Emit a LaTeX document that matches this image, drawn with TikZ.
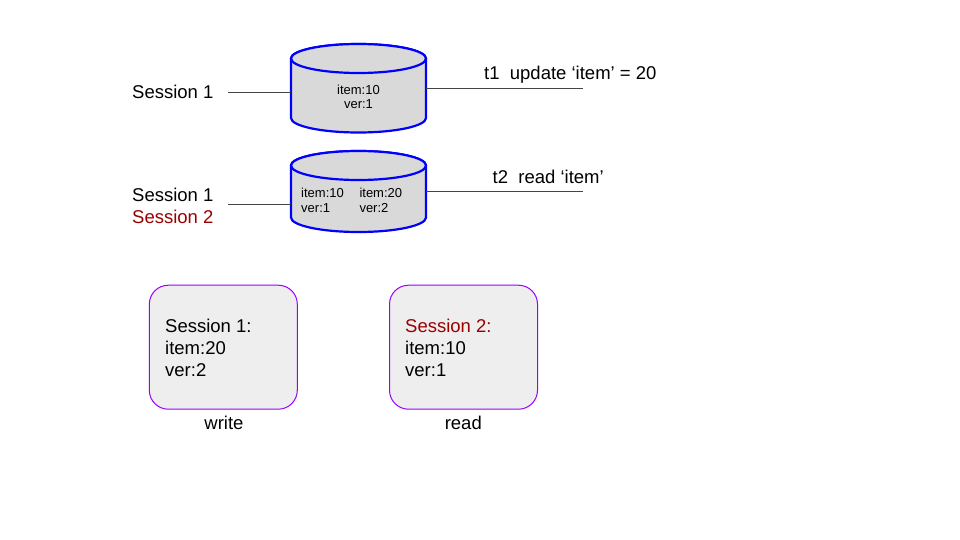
\documentclass[tikz,border=0pt]{standalone}
\usepackage{fontspec}
\setmainfont{Liberation Sans}
\definecolor{cylfill}{HTML}{D9D9D9}
\definecolor{cylline}{HTML}{0000FF}
\definecolor{boxfill}{HTML}{EEEEEE}
\definecolor{boxline}{HTML}{9900FF}
\definecolor{darkred}{HTML}{990000}
\definecolor{conncol}{HTML}{444444}
\tikzset{
  big/.style={inner sep=0pt, font=\fontsize{18.5}{21.8}\selectfont},
  small/.style={inner sep=0pt, font=\fontsize{13}{15}\selectfont},
  cylsty/.style={draw=cylline, fill=cylfill, line width=2.2pt},
  conn/.style={draw=conncol, line width=0.9pt},
  sessbox/.style={draw=boxline, fill=boxfill, line width=1pt, rounded corners=19pt, inner sep=0pt},
}
\begin{document}
\begin{tikzpicture}[x=1pt,y=-1pt]
\useasboundingbox (0,0) rectangle (960,540);
% cylinder 1
\filldraw[cylsty] (291,58.5) -- (291,118) arc[start angle=180,end angle=360,x radius=67.5pt,y radius=14.5pt] -- (426,58.5) arc[start angle=0,end angle=180,x radius=67.5pt,y radius=14.5pt] -- cycle;
\filldraw[cylsty] (358.5,58.5) ellipse[x radius=67.5pt,y radius=14.5pt];
\node[inner sep=0pt, minimum width=135pt, minimum height=89pt] (cyl1) at (358.5,88.5) {};
% cylinder 2
\filldraw[cylsty] (291,165.5) -- (291,217.5) arc[start angle=180,end angle=360,x radius=67.5pt,y radius=14.5pt] -- (426,165.5) arc[start angle=0,end angle=180,x radius=67.5pt,y radius=14.5pt] -- cycle;
\filldraw[cylsty] (358.5,165.5) ellipse[x radius=67.5pt,y radius=14.5pt];
\node[inner sep=0pt, minimum width=135pt, minimum height=80pt] (cyl2) at (358.5,192) {};
% cylinder texts
\node[small, anchor=base] (c1a) at (358.5,94.3) {item:10};
\node[small, anchor=base] (c1b) at (358.5,109) {ver:1};
\node[small, anchor=base west] (c2a) at (301,197.7) {item:10};
\node[small, anchor=base west] (c2b) at (301,212.7) {ver:1};
\node[small, anchor=base west] (c2c) at (359.3,197.7) {item:20};
\node[small, anchor=base west] (c2d) at (359.3,212.7) {ver:2};
% left labels
\node[big, anchor=base west] (s1) at (132,98.5) {Session 1};
\node[big, anchor=base west] (s1b) at (132,201.7) {Session 1};
\node[big, anchor=base west, text=darkred] (s2b) at (132,223.3) {Session 2};
% right labels
\node[big, anchor=base west] (t1) at (484,79.3) {t1\ \ update ‘item’ = 20};
\node[big, anchor=base west] (t2) at (492.5,183.3) {t2\ \ read ‘item’};
% connectors
\coordinate (l1) at (228,92);
\coordinate (r1) at (583,88.3);
\coordinate (l2) at (228,204);
\coordinate (r2) at (583,191.7);
\draw[conn] (l1) -- (l1 -| cyl1.west);
\draw[conn] (cyl1.east |- r1) -- (r1);
\draw[conn] (l2) -- (l2 -| cyl2.west);
\draw[conn] (cyl2.east |- r2) -- (r2);
% boxes
\node[sessbox, minimum width=148pt, minimum height=124pt] (b1) at (223.3,347.2) {};
\node[sessbox, minimum width=148pt, minimum height=124pt] (b2) at (463.5,347.2) {};
\node[big, anchor=base west] (b1a) at (165,332.3) {Session 1:};
\node[big, anchor=base west] (b1b) at (165,354) {item:20};
\node[big, anchor=base west] (b1c) at (165,376) {ver:2};
\node[big, anchor=base west, text=darkred] (b2a) at (405,332.3) {Session 2:};
\node[big, anchor=base west] (b2b) at (405,354) {item:10};
\node[big, anchor=base west] (b2c) at (405,376) {ver:1};
\node[big, anchor=base] (w) at (224,429.3) {write};
\node[big, anchor=base] (r) at (463.3,429.3) {read};
\end{tikzpicture}
\end{document}
